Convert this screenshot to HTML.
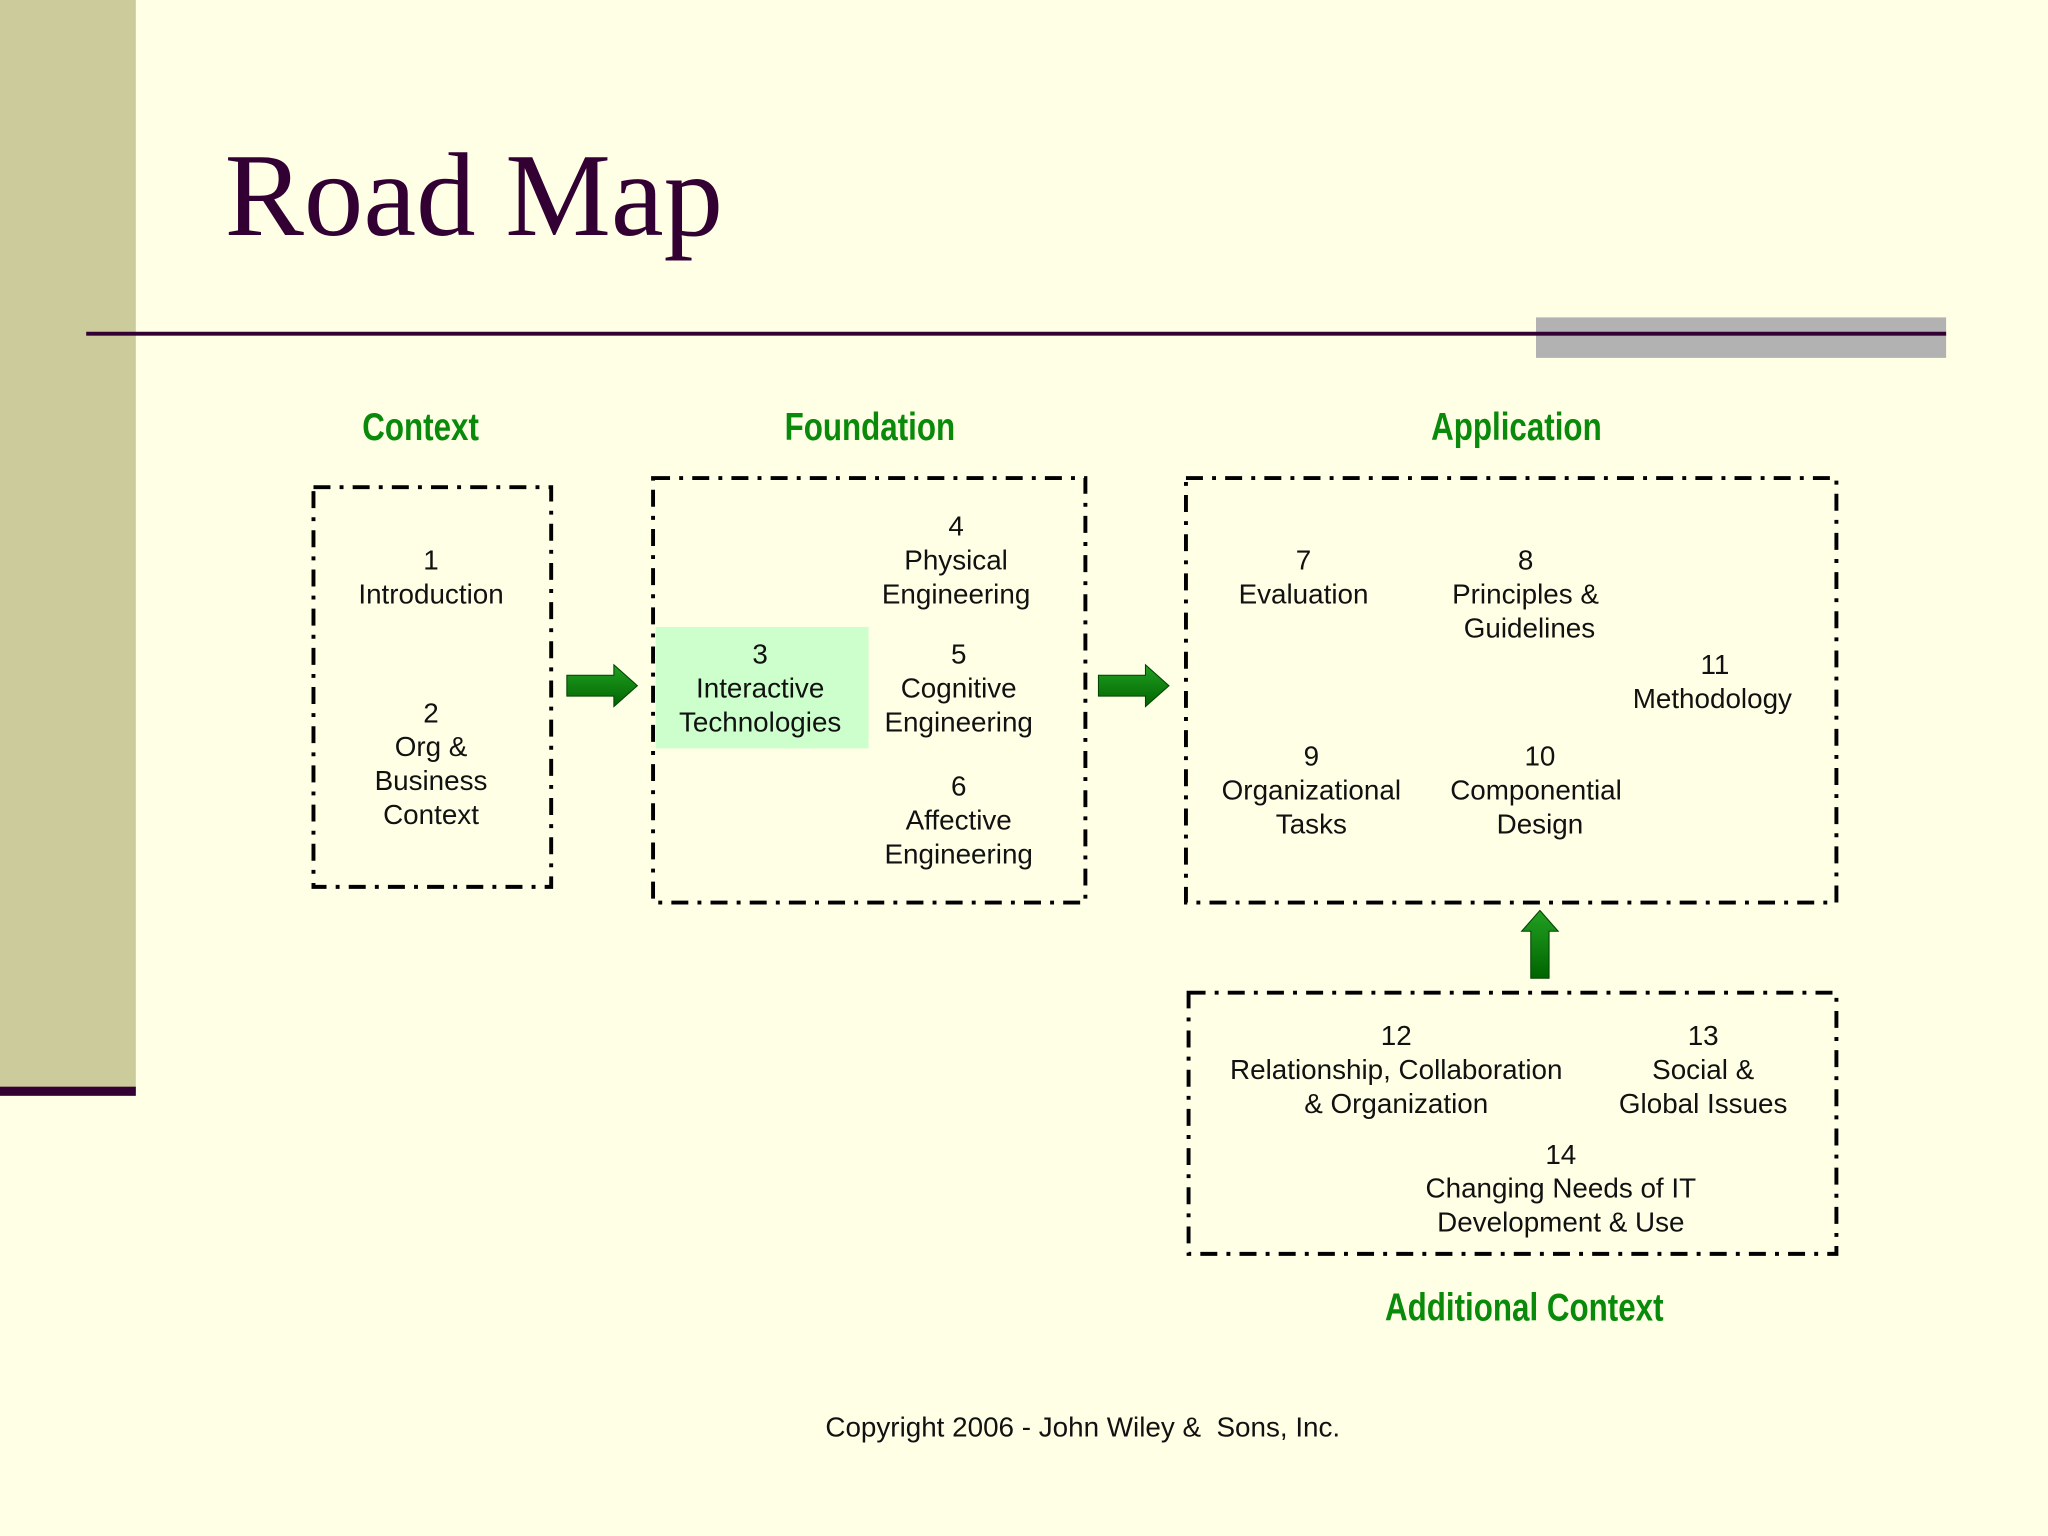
<!DOCTYPE html>
<html><head><meta charset="utf-8"><style>
html,body{margin:0;padding:0;background:#FFFFE6;}
svg{display:block}
.t{font-family:"Liberation Sans",sans-serif;font-size:21.3px;fill:#111;text-anchor:middle}
.h{font-family:"Liberation Sans",sans-serif;font-weight:bold;font-size:30px;fill:#0A8A0A;text-anchor:middle}
.b{fill:none;stroke:#000;stroke-width:3;stroke-dasharray:13 7 3 7}
</style></head><body>
<svg width="2048" height="1536" viewBox="0 0 1568 1176" xmlns="http://www.w3.org/2000/svg">
<rect width="1568" height="1176" fill="#FFFFE6"/>
<rect x="0" y="0" width="104" height="836" fill="#CBCB9B"/>
<rect x="0" y="832" width="104" height="7" fill="#330033"/>
<text x="172" y="180" font-family="Liberation Serif,serif" font-size="91" fill="#330033">Road Map</text>
<rect x="1176" y="243" width="314" height="31" fill="#B2B2B2"/>
<rect x="66" y="254" width="1424" height="3" fill="#330033"/>

<text class="h" transform="translate(322,337) scale(0.8,1)">Context</text>
<text class="h" transform="translate(666,337) scale(0.8,1)">Foundation</text>
<text class="h" transform="translate(1161,337) scale(0.8,1)">Application</text>
<text class="h" transform="translate(1167,1011) scale(0.8,1)">Additional Context</text>

<rect class="b" x="240" y="373" width="182" height="306"/>
<rect class="b" x="500" y="366" width="331" height="325"/>
<rect class="b" x="908" y="366" width="498" height="325"/>
<rect class="b" x="910" y="760" width="496" height="200"/>
<rect x="502" y="480" width="163" height="93" fill="#CCFFCC"/>

<defs><linearGradient id="g" x1="0" y1="0" x2="0" y2="1"><stop offset="0" stop-color="#22A022"/><stop offset="1" stop-color="#006400"/></linearGradient></defs>
<g fill="url(#g)" stroke="#004400" stroke-width="0.8">
<polygon points="434,517 470,517 470,509 488,525 470,541 470,533 434,533"/>
<polygon points="841,517 877,517 877,509 895,525 877,541 877,533 841,533"/>
<polygon points="1172,749 1172,713 1165,713 1179,697 1193,713 1186,713 1186,749"/>
</g>

<text class="t" x="330" y="436">1</text><text class="t" x="330" y="462">Introduction</text>
<text class="t" x="330" y="553">2</text><text class="t" x="330" y="579">Org &amp;</text><text class="t" x="330" y="605">Business</text><text class="t" x="330" y="631">Context</text>
<text class="t" x="732" y="410">4</text><text class="t" x="732" y="436">Physical</text><text class="t" x="732" y="462">Engineering</text>
<text class="t" x="582" y="508">3</text><text class="t" x="582" y="534">Interactive</text><text class="t" x="582" y="560">Technologies</text>
<text class="t" x="734" y="508">5</text><text class="t" x="734" y="534">Cognitive</text><text class="t" x="734" y="560">Engineering</text>
<text class="t" x="734" y="609">6</text><text class="t" x="734" y="635">Affective</text><text class="t" x="734" y="661">Engineering</text>
<text class="t" x="998" y="436">7</text><text class="t" x="998" y="462">Evaluation</text>
<text class="t" x="1168" y="436">8</text><text class="t" x="1168" y="462">Principles &amp;</text><text class="t" x="1171" y="488">Guidelines</text>
<text class="t" x="1313" y="516">11</text><text class="t" x="1311" y="542">Methodology</text>
<text class="t" x="1004" y="586">9</text><text class="t" x="1004" y="612">Organizational</text><text class="t" x="1004" y="638">Tasks</text>
<text class="t" x="1179" y="586">10</text><text class="t" x="1176" y="612">Componential</text><text class="t" x="1179" y="638">Design</text>
<text class="t" x="1069" y="800">12</text><text class="t" x="1069" y="826">Relationship, Collaboration</text><text class="t" x="1069" y="852">&amp; Organization</text>
<text class="t" x="1304" y="800">13</text><text class="t" x="1304" y="826">Social &amp;</text><text class="t" x="1304" y="852">Global Issues</text>
<text class="t" x="1195" y="891">14</text><text class="t" x="1195" y="917">Changing Needs of IT</text><text class="t" x="1195" y="943">Development &amp; Use</text>
<text class="t" x="829" y="1100" xml:space="preserve">Copyright 2006 - John Wiley &amp;  Sons, Inc.</text>
</svg>
</body></html>
